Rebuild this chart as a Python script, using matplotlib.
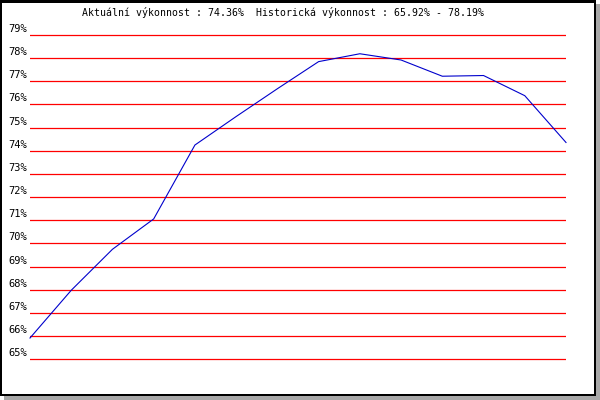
import matplotlib
matplotlib.use('Agg')
import matplotlib.pyplot as plt
from matplotlib.patches import Rectangle

# values
performance = [65.92, 67.98, 69.75, 71.06, 74.25, 75.48, 76.68,
               77.85, 78.19, 77.92, 77.22, 77.25, 76.38, 74.36]
levels = list(range(65, 80))
level_labels = ['%d%%' % v for v in levels]
title = u'Aktuální výkonnost : 74.36%  Historická výkonnost : 65.92% - 78.19%'

W, H = 600, 400
fig = plt.figure(figsize=(6, 4), dpi=100)
fig.patch.set_facecolor('white')

# frame with shadow
fig.add_artist(Rectangle((4 / W, 0), 596 / W, 396 / H, transform=fig.transFigure,
                         facecolor='#a8a8a8', edgecolor='none', zorder=0))
fig.add_artist(Rectangle((0, 4 / H), 596 / W, 396 / H, transform=fig.transFigure,
                         facecolor='black', edgecolor='none', zorder=0))
fig.add_artist(Rectangle((2 / W, 6 / H), 591.5 / W, 391 / H, transform=fig.transFigure,
                         facecolor='white', edgecolor='none', zorder=0))

# axes: 1% = 23.16 px, 79% at y=35 px
ax = fig.add_axes([30 / W, (400 - 370.9) / H, 536 / W, (370.9 - 23.4) / H])
ax.set_facecolor('none')
ax.set_xlim(0, len(performance) - 1)
ax.set_ylim(64.5, 79.5)
ax.axis('off')

for v, lab in zip(levels, level_labels):
    ax.axhline(v, color='#ff0000', lw=0.9, zorder=1)
    ax.annotate(lab, xy=(0, v), xycoords=('axes fraction', 'data'),
                xytext=(-3, 6), textcoords='offset pixels',
                ha='right', va='center', fontsize=7.5,
                family='DejaVu Sans Mono', color='black')

ax.plot(range(len(performance)), performance, color='#0000cc', lw=0.8,
        zorder=2, clip_on=False)

fig.text(283 / W, 1 - 13 / H, title, ha='center', va='center',
         fontsize=7.15, family='DejaVu Sans Mono', color='black')

fig.savefig('out.png', dpi=100)
